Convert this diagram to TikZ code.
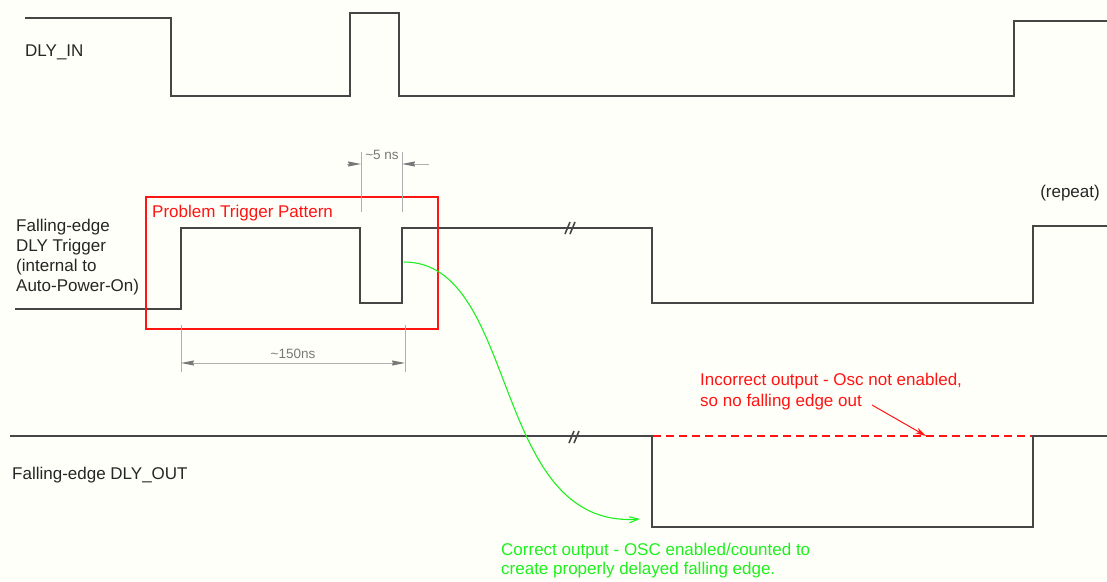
\documentclass[tikz,border=0pt]{standalone}
\usepackage{fontspec}
\setmainfont{Liberation Sans}
\usetikzlibrary{arrows.meta}
\definecolor{bg}{RGB}{255,255,249}
\definecolor{wave}{RGB}{70,70,70}
\definecolor{dim}{RGB}{175,175,175}
\definecolor{dimtxt}{RGB}{120,120,120}
\definecolor{myred}{RGB}{255,20,20}
\definecolor{mygreen}{RGB}{30,240,30}
\tikzset{
  dtip/.tip={Stealth[length=13pt,width=5pt,inset=1pt,color=dimtxt,fill=dimtxt]},
  wavestyle/.style={draw=wave, line width=1.4pt},
  breakmark/.style={draw=wave, line width=1.6pt},
  extline/.style={draw=dim, line width=0.9pt},
  dimtip/.style={draw=dim, line width=0.9pt},
  lbl/.style={font=\fontsize{17}{20}\selectfont, inner sep=0pt, text=black!85},
  dimlbl/.style={font=\fontsize{13.5}{16}\selectfont, inner sep=0pt, text=dimtxt},
  redlbl/.style={font=\fontsize{17}{21}\selectfont, inner sep=0pt, text=myred, align=left},
  greenlbl/.style={font=\fontsize{17}{19}\selectfont, inner sep=0pt, text=mygreen, align=left},
}
\begin{document}
\begin{tikzpicture}[x=1pt,y=-1pt]
\fill[bg] (0,0) rectangle (1107,581);
\useasboundingbox (0,0) rectangle (1107,581);

% DLY_IN waveform
\draw[wavestyle] (25,18) -- (171,18) -- (171,96) -- (350,96) -- (350,13) -- (399,13) -- (399,96) -- (1014,96) -- (1014,21) -- (1107,21);
\node[lbl, anchor=west] (dlyin) at (25,52) {DLY\_IN};

% Trigger waveform
\draw[wavestyle] (15,309) -- (181,309) -- (181,228) -- (360,228) -- (360,303) -- (402,303) -- (402,228) -- (652,228) -- (652,303) -- (1033,303) -- (1033,226) -- (1107,226);
\draw[breakmark] (565,234) -- (570,222);
\draw[breakmark] (570,234) -- (575,222);
\node[lbl, anchor=north west, align=left] (trig) at (16,219) {Falling-edge\\DLY Trigger\\(internal to\\Auto-Power-On)};
\node[lbl, anchor=center] (repeat) at (1070,193) {(repeat)};

% Output waveform
\draw[wavestyle] (10,436) -- (652,436) -- (652,527) -- (1033,527) -- (1033,436) -- (1107,436);
\draw[breakmark] (569,443) -- (574,431);
\draw[breakmark] (574,443) -- (579,431);
\draw[myred, line width=1.2pt, dash pattern=on 8pt off 5pt] (653,436) -- (1032,436);
\node[lbl, anchor=west] (dlyout) at (12,475) {Falling-edge DLY\_OUT};

% Problem box
\draw[myred, line width=1.6pt] (146,197) rectangle (438,329);
\node[redlbl, anchor=west] (prob) at (152,213) {Problem Trigger Pattern};

% ~5 ns dimension
\coordinate (e5a) at (361,164);
\coordinate (e5b) at (402,164);
\draw[extline] (361,152) -- (361,212);
\draw[extline] (402,152) -- (402,212);
\draw[dimtip, -{dtip}] (347,164) -- (e5a);
\draw[dimtip, -{dtip}] (429,164) -- (e5b);
\node[dimlbl] (d5) at (382,155) {\textasciitilde5 ns};

% ~150ns dimension
\coordinate (e150a) at (181,363);
\coordinate (e150b) at (405,363);
\draw[extline] (181,325) -- (181,372);
\draw[extline] (405,325) -- (405,372);
\draw[dimtip, {dtip}-{dtip}] (e150a) -- (e150b);
\node[dimlbl] (d150) at (293,354) {\textasciitilde150ns};

% Green curved arrow
\coordinate (gstart) at (404,262);
\coordinate (gend) at (640,519);
\draw[mygreen, line width=1.1pt, -{Straight Barb[length=9pt,width=6pt]}] (gstart) .. controls (520,262) and (490,530) .. (gend);
\node[greenlbl, anchor=north west] (corr) at (501,543) {Correct output - OSC enabled/counted to\\create properly delayed falling edge.};

% Red annotation
\node[redlbl, anchor=north west] (inc) at (700,373) {Incorrect output - Osc not enabled,\\so no falling edge out};
\coordinate (rstart) at (872,405);
\coordinate (rend) at (926,436);
\draw[myred, line width=1pt, -{Stealth[length=11pt,width=6pt]}] (rstart) -- (rend);
\end{tikzpicture}
\end{document}
